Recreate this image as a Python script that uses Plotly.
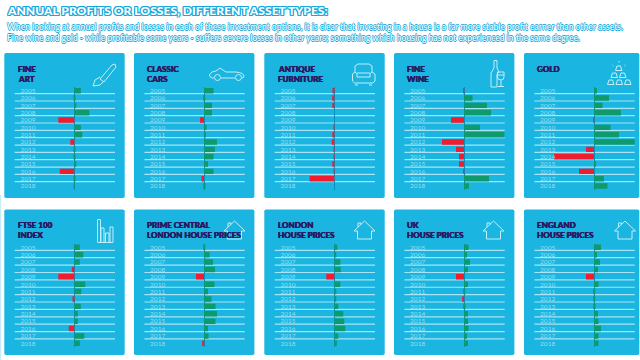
import plotly.graph_objects as go

years = list(range(2005, 2019))

titles = [
    ["FINE", "ART"], ["CLASSIC", "CARS"], ["ANTIQUE", "FURNITURE"], ["FINE", "WINE"], ["GOLD"],
    ["FTSE 100", "INDEX"], ["PRIME CENTRAL", "LONDON HOUSE PRICES"], ["LONDON", "HOUSE PRICES"],
    ["UK", "HOUSE PRICES"], ["ENGLAND", "HOUSE PRICES"],
]

fine_art = [6.5, 1, 2, 15, -16, 6.5, 8, -4, 1, 0.3, 2, -14.5, 0.3, 0.2]
classic_cars = [9.5, 1, 8, 8, -4, 2.5, 2, 13, 11, 9.5, 4, 9.5, -2.5, 1.5]
antique_furniture = [-1, -2, -2, 0, 0, -0.5, -2, -2.5, -0.5, -0.5, -2, -0.5, -24.7, 0]
fine_wine = [-0.7, 8.5, 23, 27, -13, 16, 40.5, -22, -8, -5, -5, -0.5, 25, 5]
gold = [3, 15, 8.5, 27, -0.5, 16.5, 25, 41, -8, -40, 2, -15, 10, 13.5]
ftse_100 = [5.5, 9, 5.5, -2.5, -16, 11, 7, -1.5, 6.5, 3.5, 3.5, -5.5, 10, 5.5]
prime_london = [1, 5.5, 9, 11, -8, 10.5, 4, 7.5, 11.5, 13, 11.5, 4, 4.5, -1.5]
london = [3, 2, 6, 6.5, -8, 6, 2, 2, 4, 9, 10, 11, 4, 2.5]
uk = [4.5, 3, 6, 4, -8, 4, 0.3, -1, 1.5, 4, 4, 4.5, 3, 4]
england = [7, 3, 6, 4, -8, 4.5, 0.3, 0.3, 1.5, 4, 4.5, 7, 4.5, 4.5]
series = [fine_art, classic_cars, antique_furniture, fine_wine, gold,
          ftse_100, prime_london, london, uk, england]

heading = "ANNUAL PROFITS OR LOSSES, DIFFERENT ASSET TYPES:"
intro = [
    "When looking at annual profits and losses in each of these investment options, it is clear that investing in a house is a far more stable profit earner than other assets.",
    "Fine wine and gold - while profitable some years - suffers severe losses in other years; something which housing has not experienced in the same degree.",
]

W, H = 640, 360
BLUE = "#1AB5E0"
GREEN = "#0E9A6C"
RED = "#EE1D30"
NAVY = "#2B1A63"
ICON = "#C4EEF9"
RULE = "#A9E4F6"
AXIS = "#0F8DB9"
LABEL = "#9ADFF4"
lefts = [4.3, 134, 264.3, 394, 524]
tops = [(53, 198, 87.0, 189.7, 16), (209.5, 355, 243.6, 347.0, 15.3)]
PW = 120.4


def px(x, y):
    return f"{x / W:.5f} {1 - y / H:.5f}"


def path(cmds):
    out = []
    for c in cmds:
        if c == "Z":
            out.append("Z")
        else:
            out.append(c[0] + " " + " ".join(px(c[i], c[i + 1]) for i in range(1, len(c), 2)))
    return " ".join(out)


def rounded(x0, y0, x1, y1, r=1.8):
    return path([("M", x0 + r, y0), ("L", x1 - r, y0), ("Q", x1, y0, x1, y0 + r), ("L", x1, y1 - r),
                 ("Q", x1, y1, x1 - r, y1), ("L", x0 + r, y1), ("Q", x0, y1, x0, y1 - r),
                 ("L", x0, y0 + r), ("Q", x0, y0, x0 + r, y0), "Z"])


def poly(pts, ox, oy, close=False):
    c = [("M", pts[0][0] + ox, pts[0][1] + oy)] + [("L", p[0] + ox, p[1] + oy) for p in pts[1:]]
    return path(c + (["Z"] if close else []))


shapes = []
annotations = []

# pale strip at the left edge of the page
shapes.append(dict(type="rect", xref="paper", yref="paper", x0=0, x1=1.2 / W, y0=0, y1=1 - 195 / H,
                   fillcolor="#C8ECF8", line=dict(width=0), layer="below"))


def icon(d):
    shapes.append(dict(type="path", xref="paper", yref="paper", path=d, line=dict(color=ICON, width=1), layer="above"))


def house(ox, oy):
    icon(poly([(0, 10), (10.5, 0), (21, 10), (17.5, 10), (17.5, 18), (3.5, 18), (3.5, 10), (0, 10)], ox, oy))
    icon(poly([(4, 6), (4, 2), (7, 2), (7, 3.5)], ox, oy))


fig = go.Figure()
for i, vals in enumerate(series):
    row, col = divmod(i, 5)
    pl = lefts[col]
    ptop, pbot, ay0, ay1, toff = tops[row]
    pr = min(pl + PW, 639.3)
    shapes.append(dict(type="path", xref="paper", yref="paper", path=rounded(pl, ptop, pr, pbot),
                       fillcolor=BLUE, line=dict(width=0), layer="below"))
    n = "" if i == 0 else str(i + 1)
    dx0, dx1 = pl + 29.2, pl + 110.7
    fig.add_trace(go.Bar(
        x=vals, y=years, orientation="h", xaxis="x" + n, yaxis="y" + n, width=0.74,
        marker=dict(color=[GREEN if v >= 0 else RED for v in vals], line=dict(width=0)),
        showlegend=False, hoverinfo="x+y",
    ))
    fig.update_layout({
        "xaxis" + n: dict(domain=[dx0 / W, dx1 / W], range=[-40.8, 40.7], anchor="y" + n, visible=True,
                          showticklabels=False, ticks="", showgrid=False, showline=False,
                          zeroline=True, zerolinecolor=AXIS, zerolinewidth=1),
        "yaxis" + n: dict(domain=[1 - ay1 / H, 1 - ay0 / H], range=[2018.5, 2004.5], anchor="x" + n,
                          tickvals=years, ticktext=[str(y) for y in years], ticks="", showgrid=False,
                          showline=False, zeroline=False,
                          tickfont=dict(family="Lato", size=6.5, color=LABEL), ticklabelstandoff=-3),
    })
    for y in years[:-1]:
        shapes.append(dict(type="line", xref=f"x{n} domain", yref=f"y{n}",
                           x0=-18.8 / 81.5, x1=1.0, y0=y + 0.41, y1=y + 0.41,
                           line=dict(color=RULE, width=1.2), layer="below"))
    for j, t in enumerate(titles[i]):
        annotations.append(dict(
            xref="paper", yref="paper", x=(pl + 11.4) / W, y=1 - (ptop + toff + j * 10) / H, text=t,
            showarrow=False, xanchor="left", yanchor="middle", align="left",
            font=dict(family="Lato", size=8, color=NAVY, weight=900,
                      shadow=f"0.35px 0 0 {NAVY}, -0.2px 0 0 {NAVY}")))

# icons (pixel outlines)
icon(poly([(115, 64), (116, 67), (104, 82), (100, 79), (112, 65), (115, 64)], 0, 0))
icon(poly([(100, 77), (95, 80), (93, 86), (100, 85), (104, 81)], 0, 0))
# car
icon(path([("M", 209.5, 75), ("Q", 211, 71, 216, 71), ("L", 220, 68), ("L", 226, 72), ("L", 236, 72),
           ("Q", 244, 73, 244, 76), ("Q", 244, 78, 242, 78), ("M", 235, 78), ("L", 221, 78),
           ("M", 214, 78), ("L", 212, 78), ("Q", 209.5, 77, 209.5, 75)]))
for cx in (217.5, 238.5):
    icon(path([("M", cx - 3, 77.5), ("Q", cx - 3, 74.5, cx, 74.5), ("Q", cx + 3, 74.5, cx + 3, 77.5),
               ("Q", cx + 3, 80.5, cx, 80.5), ("Q", cx - 3, 80.5, cx - 3, 77.5)]))
# sofa
icon(poly([(355, 72), (355, 66), (358, 64), (369, 64), (372, 66), (372, 72)], 0, 0))
icon(poly([(352.5, 74), (355, 72), (357, 74), (357, 77), (370, 77), (370, 74), (372, 72), (375, 74), (375, 81),
           (373, 83), (354.5, 83), (352.5, 81), (352.5, 74)], 0, 0))
icon(poly([(357, 73), (370, 73)], 0, 0))
icon(poly([(355, 85), (358, 85)], 0, 0))
icon(poly([(369, 85), (372, 85)], 0, 0))
# bottle and glass
icon(poly([(494, 60.5), (497, 60.5), (497, 68), (499, 72), (497, 74), (497, 87), (491, 87), (491, 73), (494, 68), (494, 60.5)], 0, 0))
icon(path([("M", 497.5, 72), ("L", 504, 72), ("L", 504, 77), ("Q", 504, 80, 501, 80), ("Q", 497.5, 80, 497.5, 77), ("L", 497.5, 72)]))
icon(poly([(497.5, 75), (504, 75)], 0, 0))
icon(poly([(501, 80), (501, 86.5)], 0, 0))
icon(poly([(498, 86.5), (504, 86.5)], 0, 0))
# gold bars
for (bx, by) in [(615.5, 66), (611, 73), (619.5, 73), (607.5, 80), (616, 80), (624.5, 80)]:
    icon(poly([(bx + 1.5, by), (bx + 5, by), (bx + 6.5, by + 4.5), (bx, by + 4.5)], 0, 0, True))
icon(poly([(619, 61), (619, 62.5)], 0, 0))
icon(poly([(612.5, 65), (613.5, 66)], 0, 0))
icon(poly([(625.5, 65), (624.5, 66)], 0, 0))
# FTSE columns
icon(poly([(97.5, 242), (97.5, 219.5), (100.5, 219.5), (100.5, 242)], 0, 0))
icon(poly([(97.5, 242.5), (113, 242.5), (113, 227), (110, 227), (110, 242)], 0, 0))
icon(poly([(101, 242), (101, 228), (104, 228), (104, 242)], 0, 0))
icon(poly([(105.5, 242), (105.5, 233), (109, 233), (109, 242)], 0, 0))
for ox, oy in [(224, 221), (354, 221), (483, 221), (614.5, 221)]:
    house(ox, oy)

HALO = "#17A9DC"
shadow = ", ".join(f"{a}px {b}px 0 {HALO}" for a, b in [(1, 0), (-1, 0), (0, 1), (0, -1), (1, 1), (-1, -1), (1, -1), (-1, 1)])
thin = ", ".join(f"{a}px {b}px 0 {HALO}" for a, b in [(0.6, 0), (-0.6, 0), (0, 0.6), (0, -0.6)])
annotations.append(dict(xref="paper", yref="paper", x=4.5 / W, y=1 - 10 / H, text=heading, showarrow=False,
                        xanchor="left", yanchor="middle",
                        font=dict(family="Lato", size=12.1, color="#FFFFFF", weight=900, shadow=shadow)))
for line, yy in zip(intro, (27, 38)):
    annotations.append(dict(xref="paper", yref="paper", x=4.5 / W, y=1 - yy / H, text=line, showarrow=False,
                            xanchor="left", yanchor="middle",
                            font=dict(family="Lato", size=8.5, color="#E8F8FD", weight=700, shadow=thin)))

fig.update_layout(width=W, height=H, margin=dict(l=0, r=0, t=0, b=0), autosize=False,
                  paper_bgcolor="#FFFFFF", plot_bgcolor="rgba(0,0,0,0)", showlegend=False,
                  barmode="overlay", shapes=shapes, annotations=annotations)
fig.write_html("out.html", config={"displayModeBar": False},
               post_script="document.body.style.margin='0';")
